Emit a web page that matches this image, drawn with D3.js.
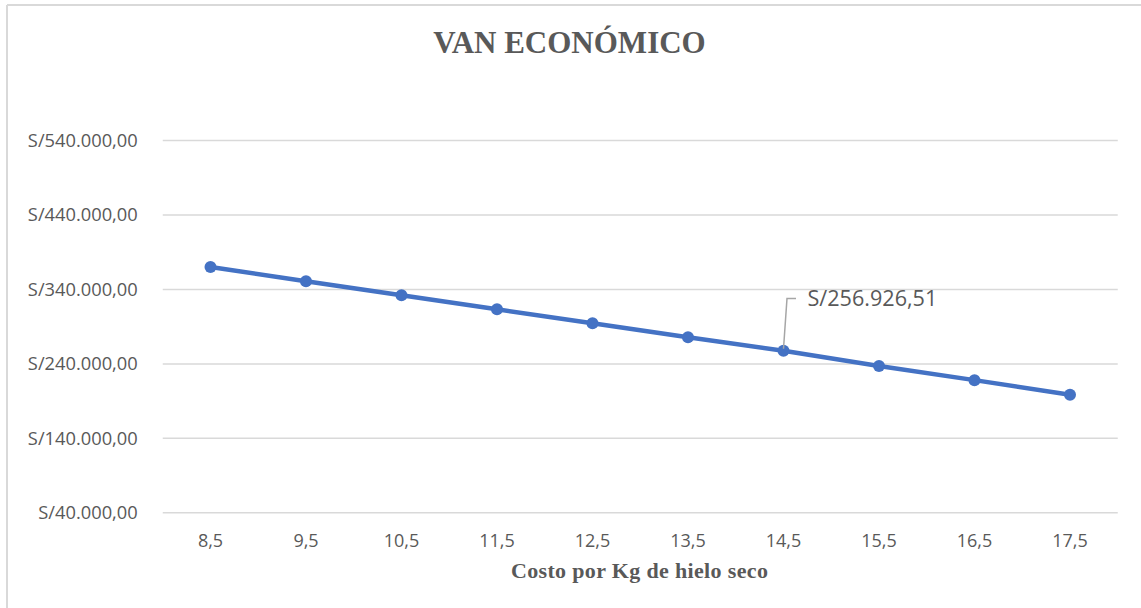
<!DOCTYPE html>
<html>
<head>
<meta charset="utf-8">
<script src="https://cdn.jsdelivr.net/npm/d3@7"></script>
<style>
  html, body { margin: 0; padding: 0; background: #ffffff; }
  svg { display: block; }
</style>
</head>
<body>
<svg id="chart" width="1141" height="608"></svg>
<script>
// Cost per kg of dry ice (categories) and the resulting economic NPV
const costLabels = ["8,5", "9,5", "10,5", "11,5", "12,5", "13,5", "14,5", "15,5", "16,5", "17,5"];
const vanValues = [369500, 350300, 331500, 312600, 293800, 275200, 256926.51, 236500, 217500, 198000];
const yTickValues = [40000, 140000, 240000, 340000, 440000, 540000];
const labelledIndex = 6;

const chartTitle = "VAN ECONÓMICO";
const xAxisTitle = "Costo por Kg de hielo seco";

const W = 1141, H = 608;
const plot = { left: 162.75, right: 1117.75, top: 140, bottom: 512.3 };
const textColor = "#595959";
const gridColor = "#d9d9d9";
const lineColor = "#4472C4";

const locale = d3.formatLocale({
  decimal: ",",
  thousands: ".",
  grouping: [3],
  currency: ["S/", ""]
});
const money = locale.format("$,.2f");

const svg = d3.select("#chart");

// frame of the chart area
svg.append("line")
  .attr("x1", 7).attr("x2", 7).attr("y1", 5).attr("y2", H)
  .attr("stroke", gridColor).attr("stroke-width", 2);
svg.append("line")
  .attr("x1", 7).attr("x2", W).attr("y1", 5).attr("y2", 5)
  .attr("stroke", gridColor).attr("stroke-width", 2);

const x = d3.scaleBand()
  .domain(costLabels)
  .range([plot.left, plot.right])
  .paddingInner(0)
  .paddingOuter(0);

const y = d3.scaleLinear()
  .domain([40000, 540000])
  .range([plot.bottom, plot.top]);

const cx = d => x(d) + x.bandwidth() / 2;

// value axis with horizontal gridlines
const yAxis = svg.append("g")
  .attr("transform", `translate(${plot.left},0)`)
  .call(d3.axisLeft(y)
    .tickValues(yTickValues)
    .tickFormat(money)
    .tickSize(-(plot.right - plot.left))
    .tickPadding(25));
yAxis.select(".domain").remove();
yAxis.selectAll(".tick line")
  .attr("stroke", gridColor)
  .attr("stroke-width", 1.5);
yAxis.selectAll(".tick text")
  .attr("fill", textColor)
  .attr("dy", "0.34em")
  .style("font-family", "'Open Sans', sans-serif")
  .style("font-size", "18.3px");

// category axis
const xAxis = svg.append("g")
  .attr("transform", `translate(0,${plot.bottom})`)
  .call(d3.axisBottom(x).tickSize(0).tickPadding(22));
xAxis.select(".domain").remove();
xAxis.selectAll(".tick text")
  .attr("fill", textColor)
  .style("font-family", "'Open Sans', sans-serif")
  .style("font-size", "18px");

const series = costLabels.map((c, i) => ({ c, v: vanValues[i] }));

// NPV line
svg.append("path")
  .datum(series)
  .attr("fill", "none")
  .attr("stroke", lineColor)
  .attr("stroke-width", 4.5)
  .attr("stroke-linejoin", "round")
  .attr("d", d3.line().x(d => cx(d.c)).y(d => y(d.v)));

svg.append("g")
  .selectAll("circle")
  .data(series)
  .join("circle")
  .attr("cx", d => cx(d.c))
  .attr("cy", d => y(d.v))
  .attr("r", 6)
  .attr("fill", lineColor);

// data label with leader line
const lp = series[labelledIndex];
const px = cx(lp.c), py = y(lp.v);
const labelY = 298.5;
svg.append("path")
  .attr("d", `M${px},${py - 2} L${px + 3.5},${labelY} L${px + 12.5},${labelY}`)
  .attr("fill", "none")
  .attr("stroke", "#a6a6a6")
  .attr("stroke-width", 1.5);
svg.append("text")
  .attr("x", px + 24)
  .attr("y", labelY)
  .attr("dy", "0.36em")
  .attr("fill", textColor)
  .style("font-family", "'Open Sans', sans-serif")
  .style("font-size", "21.6px")
  .text(money(lp.v));

// titles
svg.append("text")
  .attr("x", 569.5)
  .attr("y", 53.3)
  .attr("text-anchor", "middle")
  .attr("fill", textColor)
  .style("font-family", "'Liberation Serif', 'Times New Roman', serif")
  .style("font-weight", "bold")
  .style("font-size", "31px")
  .text(chartTitle);

svg.append("text")
  .attr("x", 639.4)
  .attr("y", 578)
  .attr("text-anchor", "middle")
  .attr("fill", textColor)
  .attr("textLength", 257)
  .attr("lengthAdjust", "spacing")
  .style("font-family", "'Liberation Serif', 'Times New Roman', serif")
  .style("font-weight", "bold")
  .style("font-size", "22px")
  .text(xAxisTitle);
</script>
</body>
</html>
